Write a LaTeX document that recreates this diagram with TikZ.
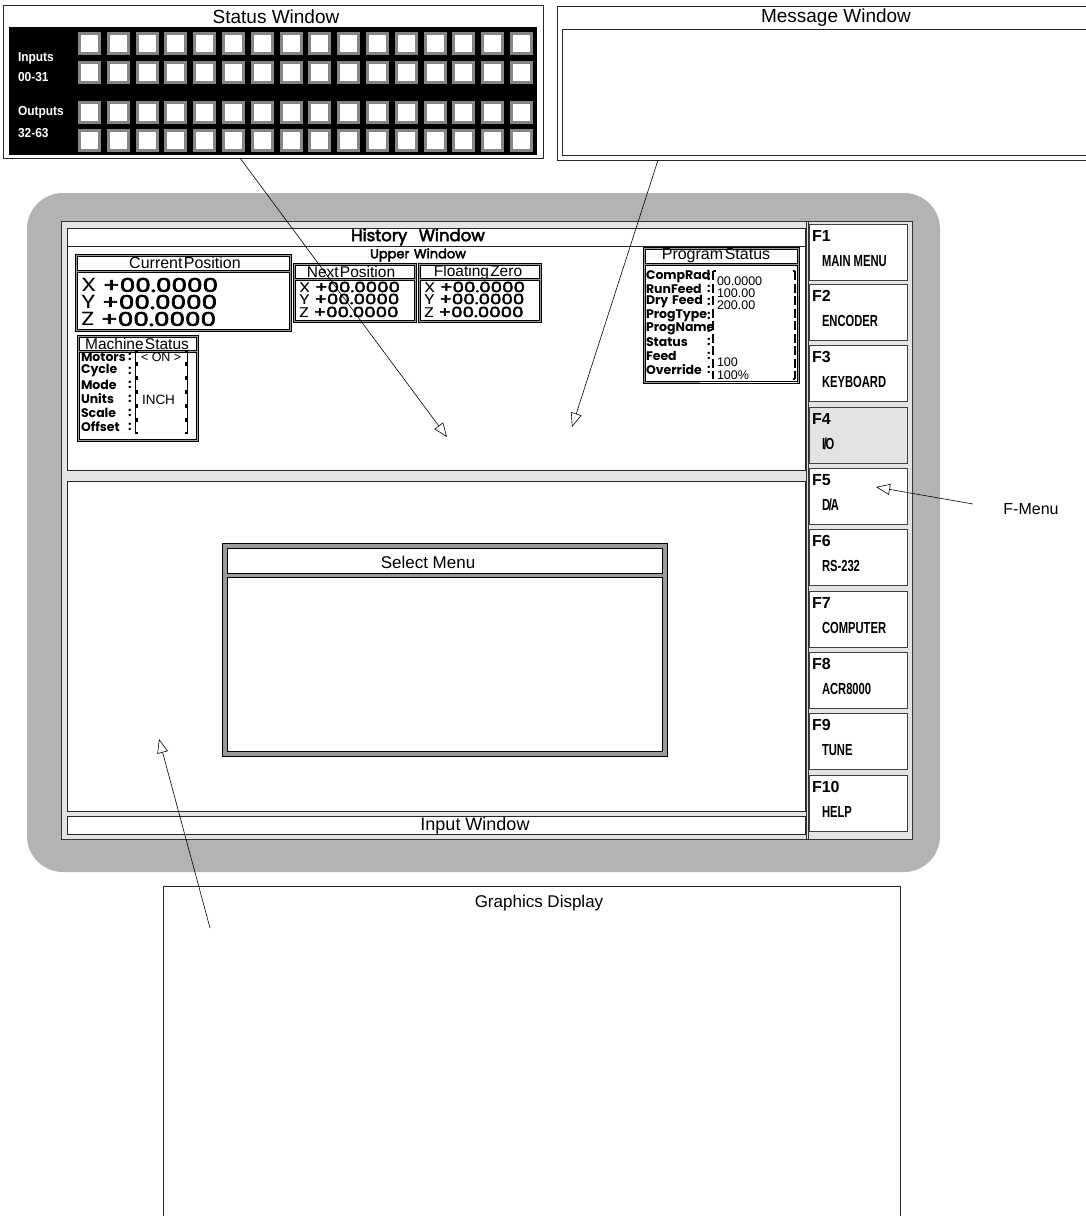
\documentclass[tikz,border=0pt]{standalone}
\usepackage{fontspec}
\setmainfont{Liberation Sans}
\newfontfamily\geo{Poppins}
\newfontfamily\geomid{Poppins}[FakeBold=3]
\usetikzlibrary{arrows.meta}
\definecolor{panelgray}{HTML}{B3B3B3}
\definecolor{sqgray}{HTML}{858585}
\definecolor{framegray}{HTML}{E4E4E4}
\definecolor{keygray}{HTML}{E3E3E3}
\definecolor{shellgray}{HTML}{9A9A9A}
\newcommand{\fsz}[1]{\fontsize{#1}{#1}\selectfont}
\newcommand{\wide}[2]{\scalebox{#1}[1]{#2}}
\tikzset{
  txt/.style={inner sep=0pt, outer sep=0pt},
  ttl/.style={txt, font=\fsz{17}},
  winbox/.style={draw=black!85, line width=0.8pt, fill=white},
  shell/.style={draw=black, line width=0.6pt, fill=shellgray},
  pane/.style={draw=black, line width=0.6pt, fill=white},
  bigval/.style={txt, anchor=west, font=\geo\fsz{19}},
  smallval/.style={txt, anchor=west, font=\geo\fsz{14}},
  rowlbl/.style={txt, anchor=west, font=\geo\bfseries\fsz{12.5}},
  rowval/.style={txt, anchor=west, font=\fsz{12.5}},
  boxttl/.style={txt, font=\fsz{15.5}},
  fnum/.style={txt, anchor=west, font=\bfseries\fsz{16}},
  fname/.style={txt, anchor=west, font=\bfseries\fsz{16}},
  fkey/.style={draw=black!75, line width=0.7pt, fill=white},
  pointer/.style={line width=0.6pt, -{Triangle[fill=white, length=14pt, width=11pt, line width=0.6pt]}},
  brk/.style={line width=1.6pt},
}
\begin{document}
\begin{tikzpicture}[x=1pt,y=-1pt]
\useasboundingbox (0,0) rectangle (1085,1216);
\fill[white] (0,0) rectangle (1085,1216);

% ---------------- Status window
\draw[winbox] (3,5) rectangle (543,158);
\node[txt, font=\fsz{19}] (swtitle) at (276,17) {Status Window};
\fill[black] (9,27) rectangle (537,155);
\foreach \r in {32,61,101,129} {
  \foreach \c in {0,...,15} {
    \fill[sqgray] ({78+28.8*\c},\r) rectangle ++(23,23);
    \fill[white] ({81+28.8*\c},{\r+3}) rectangle ++(17,17);
  }
}
\node[txt, anchor=west, text=white, font=\bfseries\fsz{13}] (lin) at (18,58) {\wide{0.92}{Inputs}};
\node[txt, anchor=west, text=white, font=\bfseries\fsz{13}] (lin2) at (18,77) {\wide{0.92}{00-31}};
\node[txt, anchor=west, text=white, font=\bfseries\fsz{13}] (lout) at (18,112) {\wide{0.92}{Outputs}};
\node[txt, anchor=west, text=white, font=\bfseries\fsz{13}] (lout2) at (18,133) {\wide{0.92}{32-63}};

% ---------------- Message window
\draw[winbox] (557,6) rectangle (1100,160);
\draw[winbox] (562,29) rectangle (1100,155);
\node[txt, font=\fsz{19}] (mwtitle) at (836,18) {Message Window};

% ---------------- Monitor
\fill[panelgray, rounded corners=36pt] (27,193) rectangle (940,872);
\draw[draw=black!80, fill=framegray, line width=0.8pt] (61,221) rectangle (912,839);
\draw[black!80, line width=0.7pt] (806,221) -- (806,839);
\draw[black!80, line width=0.7pt] (808.5,221) -- (808.5,839);

\draw[winbox] (67,228) rectangle (805,246);
\draw[winbox] (67,246) rectangle (805,470);
\draw[winbox] (67,481) rectangle (805,811);
\draw[winbox] (67,816) rectangle (805,834);

\node[txt, font=\geomid\fsz{16.5}] (hist) at (418,237) {History\hspace{0.7em}Window};
\node[txt, font=\geomid\fsz{13}] (upper) at (418,255) {Upper\hspace{0.35em}Window};
\node[txt, font=\fsz{18}] (inwin) at (475,826) {Input Window};

% Current position
\draw[shell] (75,254) rectangle (291,331);
\draw[pane] (77,256) rectangle (289,270);
\draw[pane] (77,272) rectangle (289,329);
\node[boxttl, font=\fsz{16}] (cpt) at (185,263) {Current\hspace{0.08em}Position};
\node[bigval] (cpx) at (81,285) {\wide{1.3}{X {\geomid+00.0000}}};
\node[bigval] (cpy) at (81,302) {\wide{1.3}{Y {\geomid+00.0000}}};
\node[bigval] (cpz) at (81,319) {\wide{1.3}{Z {\geomid+00.0000}}};

% Next position
\draw[shell] (293,263) rectangle (416,322);
\draw[pane] (295,265) rectangle (414,278);
\draw[pane] (295,280) rectangle (414,320);
\node[boxttl] (npt) at (351,272) {Next\hspace{0.08em}Position};
\node[smallval] (npx) at (299,287) {\wide{1.3}{X {\geomid+00.0000}}};
\node[smallval] (npy) at (299,299) {\wide{1.3}{Y {\geomid+00.0000}}};
\node[smallval] (npz) at (299,312) {\wide{1.3}{Z {\geomid+00.0000}}};

% Floating zero
\draw[shell] (418,263) rectangle (541,322);
\draw[pane] (420,265) rectangle (539,278);
\draw[pane] (420,280) rectangle (539,320);
\node[boxttl] (fzt) at (478,272) {Floating\hspace{0.08em}Zero};
\node[smallval] (fzx) at (424,287) {\wide{1.3}{X {\geomid+00.0000}}};
\node[smallval] (fzy) at (424,299) {\wide{1.3}{Y {\geomid+00.0000}}};
\node[smallval] (fzz) at (424,312) {\wide{1.3}{Z {\geomid+00.0000}}};

% Machine status
\draw[shell] (77,335) rectangle (198,441);
\draw[pane] (79,337) rectangle (196,350);
\draw[pane] (79,352) rectangle (196,439);
\node[boxttl] (mst) at (137,344) {Machine\hspace{0.08em}Status};
\foreach \y/\l/\k in {357/Motors/m1, 371/Cycle/m2, 385/Mode/m3, 399/Units/m4, 413/Scale/m5, 427/Offset/m6} {
  \node[rowlbl] (ms-\k) at (81,\y) {\l};
  \node[rowlbl] (msc-\k) at (128,\y) {:};
  \draw[brk] (138,{\y-6}) -- (135.5,{\y-6}) -- (135.5,{\y+6}) -- (138,{\y+6});
  \draw[brk] (185,{\y-6}) -- (187.5,{\y-6}) -- (187.5,{\y+6}) -- (185,{\y+6});
}
\node[rowval] (mson) at (141,357) {< ON >};
\node[rowval, font=\fsz{13.5}] (msinch) at (142,400) {INCH};

% Program status
\draw[shell] (643,247) rectangle (799,383);
\draw[pane] (645,249) rectangle (797,263);
\draw[pane] (645,265) rectangle (797,381);
\node[boxttl, font=\fsz{16}] (pst) at (716,256) {Program\hspace{0.1em}Status};
\foreach \y/\l/\k in {277/CompRad/p1, 289/RunFeed/p2, 302/{Dry\hspace{0.3em}Feed}/p3, 316/ProgType/p4, 329/ProgName/p5, 342/Status/p6, 356/Feed/p7, 370/Override/p8} {
  \node[rowlbl] (ps-\k) at (646,\y) {\l};
  \node[rowlbl] (psc-\k) at (707,\y) {:};
}
\draw[brk, dash pattern=on 9pt off 3.5pt] (713,271) -- (713,379);
\draw[brk] (715.5,271) -- (713,271);
\draw[brk, dash pattern=on 9pt off 3.5pt] (795,271) -- (795,379);
\draw[brk] (792.5,271) -- (795,271);
\draw[brk] (792.5,379) -- (795,379);
\node[rowval] (pv1) at (717,281) {00.0000};
\node[rowval] (pv2) at (717,293) {100.00};
\node[rowval] (pv3) at (717,305) {200.00};
\node[rowval] (pv7) at (717,362) {100};
\node[rowval] (pv8) at (717,375) {100\%};
\fill[white] (700,381.3) rectangle (796.7,386);
\draw[pane, fill=none] (645,265) rectangle (797,381);
\draw[black, line width=0.6pt] (643,383) -- (799,383);

% Select menu
\draw[draw=black, fill=shellgray, line width=0.8pt] (222,543) rectangle (667,756);
\draw[pane] (227,548) rectangle (662,573);
\draw[pane] (227,577) rectangle (662,751);
\node[ttl] (smt) at (428,562) {Select Menu};

% F keys
\foreach \t/\n/\s/\k in {224/F1/{MAIN MENU}/k1, 284/F2/ENCODER/k2, 345/F3/KEYBOARD/k3, 468/F5/{D\kern-0.1em/\kern-0.1emA}/k5, 529/F6/RS-232/k6, 591/F7/COMPUTER/k7, 652/F8/ACR8000/k8, 713/F9/TUNE/k9, 775/F10/HELP/k10} {
  \draw[fkey] (809,\t) rectangle ++(98,56);
  \node[fnum] (fn-\k) at (812,{\t+12}) {\n};
  \node[fname] (fs-\k) at (822,{\t+37}) {\wide{0.7}{\s}};
}
\draw[fkey, fill=keygray] (809,407) rectangle ++(98,56);
\node[fnum] (fn-k4) at (812,419) {F4};
\node[fname] (fs-k4) at (822,444) {\wide{0.7}{I\kern-0.12em/\kern-0.12emO}};

% Graphics display
\draw[winbox] (163,886) rectangle (900,1230);
\node[txt, font=\fsz{17}] (gdt) at (539,903) {Graphics Display};

% F-Menu label
\node[txt, font=\fsz{16}] (fmenu) at (1031,509) {F-Menu};

% pointers
\coordinate (a1s) at (240,158);
\coordinate (a1e) at (447,437);
\coordinate (a2s) at (658,160);
\coordinate (a2e) at (572,427);
\coordinate (a3s) at (973,504);
\coordinate (a3e) at (876,487);
\coordinate (a4s) at (210,928);
\coordinate (a4e) at (159,739);
\draw[pointer] (a1s) -- (a1e);
\draw[pointer] (a2s) -- (a2e);
\draw[pointer] (a3s) -- (a3e);
\draw[pointer] (a4s) -- (a4e);
\end{tikzpicture}
\end{document}
